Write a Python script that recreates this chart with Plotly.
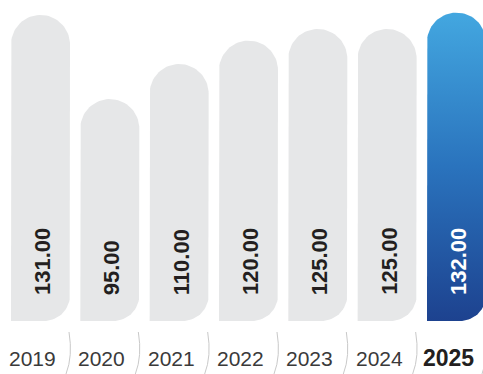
import numpy as np
import plotly.graph_objects as go

years = ["2019", "2020", "2021", "2022", "2023", "2024", "2025"]
values = [131.00, 95.00, 110.00, 120.00, 125.00, 125.00, 132.00]
value_labels = ["131.00", "95.00", "110.00", "120.00", "125.00", "125.00", "132.00"]

W, H = 483, 374
M_L, M_R, M_T, M_B = 0, 0, 0, 53
plot_w = W - M_L - M_R
plot_h = H - M_T - M_B
X_RANGE = [-0.5842, 6.3825]
Y_RANGE = [0, 137.4]
kx = plot_w / (X_RANGE[1] - X_RANGE[0])   # px per category unit
ky = plot_h / (Y_RANGE[1] - Y_RANGE[0])   # px per value unit

BAR_W_PX = 59
TOP_R_PX = BAR_W_PX / 2
BOT_R_PX = 26

GRAY = "#e6e7e8"


def bar_outline(c, v):
    hw = BAR_W_PX / 2 / kx
    rx_t, ry_t = TOP_R_PX / kx, TOP_R_PX / ky
    rx_b, ry_b = BOT_R_PX / kx, BOT_R_PX / ky
    xs, ys = [c - hw, c - hw], [0, v - ry_t]
    t = np.linspace(np.pi, 0, 40)
    xs += list(c + rx_t * np.cos(t))
    ys += list(v - ry_t + ry_t * np.sin(t))
    xs += [c + hw]
    ys += [ry_b]
    t2 = np.linspace(0, -np.pi / 2, 20)
    xs += list(c + hw - rx_b + rx_b * np.cos(t2))
    ys += list(ry_b + ry_b * np.sin(t2))
    xs += [c - hw]
    ys += [0]
    return xs, ys


fig = go.Figure()
n = len(years)
for i, (yr, v) in enumerate(zip(years, values)):
    xs, ys = bar_outline(i, v)
    if i == n - 1:
        fig.add_trace(go.Scatter(
            x=xs, y=ys, mode="lines", fill="toself", line=dict(width=0),
            fillgradient=dict(type="vertical",
                              colorscale=[[0, "#1d428f"], [0.5, "#2a73bd"], [1, "#43a7e0"]]),
            hoverinfo="skip", showlegend=False))
    else:
        fig.add_trace(go.Scatter(
            x=xs, y=ys, mode="lines", fill="toself", fillcolor=GRAY,
            line=dict(width=0), hoverinfo="skip", showlegend=False))

annotations = []
for i, (yr, lab) in enumerate(zip(years, value_labels)):
    last = i == n - 1
    annotations.append(dict(
        x=i + 2 / kx, y=0, xref="x", yref="y", text=f"<b>{lab}</b>",
        textangle=-90, showarrow=False, xanchor="center", yanchor="bottom",
        yshift=24, font=dict(family="Liberation Sans, Arial", size=22,
                             color="#ffffff" if last else "#231f20")))
    annotations.append(dict(
        x=i - 8 / kx, y=0, xref="x", yref="paper",
        text=f"<b>{yr}</b>" if last else yr,
        showarrow=False, xanchor="center", yanchor="middle", yshift=-37,
        font=dict(family="Liberation Sans, Arial", size=23 if last else 21,
                  color="#231f20" if last else "#3a3a3a")))


def py(p):
    return (plot_h - p) / plot_h


shapes = []
dx = 1 / kx
for i in range(n):
    xe = i + (BAR_W_PX / 2 - 1) / kx
    path = (f"M {xe:.4f},{py(332):.4f} "
            f"Q {xe + 4 * dx:.4f},{py(356):.4f} {xe - 3 * dx:.4f},{py(374):.4f}")
    shapes.append(dict(type="path", xref="x", yref="paper", path=path,
                       line=dict(color="#c9c9c9", width=1)))

fig.update_layout(
    width=W, height=H,
    margin=dict(l=M_L, r=M_R, t=M_T, b=M_B),
    paper_bgcolor="white", plot_bgcolor="white",
    xaxis=dict(range=X_RANGE, visible=False, fixedrange=True),
    yaxis=dict(range=Y_RANGE, visible=False, fixedrange=True),
    annotations=annotations, shapes=shapes, showlegend=False,
)
fig.write_html(
    "out.html",
    config={"displayModeBar": False},
    post_script="document.body.style.margin='0';document.body.style.overflow='hidden';",
)
